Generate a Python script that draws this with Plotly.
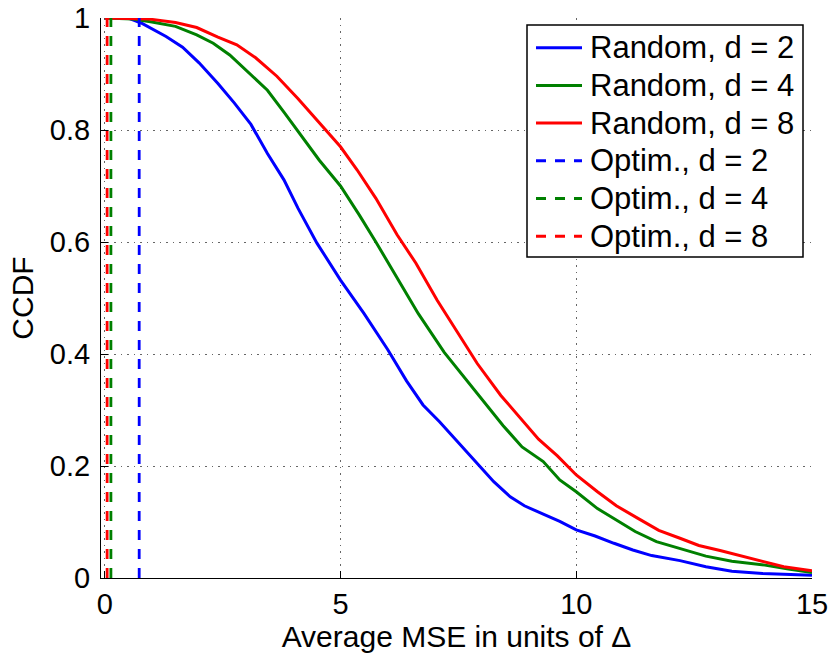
import plotly.graph_objects as go

# CCDF of the average MSE for random placements
rand_d2_x = [0, 0.5, 0.8, 1.3, 1.65, 2.0, 2.4, 2.75, 3.1, 3.45, 3.8, 4.1, 4.5, 5.0, 5.5,
             6.0, 6.4, 6.75, 7.1, 7.45, 7.9, 8.25, 8.6, 8.9, 9.3, 9.65, 10.0, 10.4, 10.8,
             11.2, 11.6, 12.2, 12.75, 13.3, 13.95, 14.5, 15]
rand_d2_y = [1, 1, 0.99, 0.967, 0.948, 0.92, 0.883, 0.848, 0.81, 0.758, 0.711, 0.66, 0.598,
             0.532, 0.472, 0.408, 0.352, 0.309, 0.279, 0.246, 0.205, 0.172, 0.145, 0.129,
             0.114, 0.101, 0.086, 0.075, 0.062, 0.05, 0.04, 0.031, 0.02, 0.012, 0.008,
             0.006, 0.005]

rand_d4_x = [0, 0.6, 1.0, 1.5, 1.95, 2.3, 2.65, 3.05, 3.45, 3.8, 4.2, 4.55, 5.0, 5.4, 5.75,
             6.15, 6.65, 7.2, 7.9, 8.45, 8.85, 9.3, 9.65, 10.0, 10.45, 10.85, 11.25, 11.7,
             12.2, 12.75, 13.3, 14.0, 14.5, 15]
rand_d4_y = [1, 0.998, 0.993, 0.985, 0.97, 0.955, 0.934, 0.902, 0.871, 0.832, 0.785, 0.746,
             0.70, 0.648, 0.600, 0.544, 0.472, 0.403, 0.330, 0.272, 0.234, 0.208, 0.175,
             0.154, 0.124, 0.104, 0.083, 0.065, 0.053, 0.039, 0.030, 0.023, 0.016, 0.010]

rand_d8_x = [0, 0.95, 1.5, 1.95, 2.4, 2.8, 3.2, 3.65, 4.1, 4.5, 5.0, 5.35, 5.75, 6.2, 6.6,
             7.05, 7.9, 8.4, 8.8, 9.2, 9.6, 10.0, 10.45, 10.85, 11.3, 11.75, 12.2, 12.6,
             13.05, 13.5, 13.95, 14.4, 15]
rand_d8_y = [1, 0.998, 0.992, 0.983, 0.966, 0.952, 0.929, 0.896, 0.856, 0.818, 0.77, 0.729,
             0.678, 0.613, 0.562, 0.496, 0.383, 0.326, 0.288, 0.248, 0.218, 0.184, 0.154,
             0.129, 0.107, 0.085, 0.071, 0.058, 0.049, 0.039, 0.030, 0.020, 0.013]

# optimised placements give a single MSE value (step CCDF)
optim_d = [2, 4, 8]
optim_mse = [0.73, 0.13, 0.05]

colors = {2: "#0000FF", 4: "#008000", 8: "#FF0000"}
DASH = "10px,9px"

W, H = 831, 653
ML, MR, MT, MB = 101, 19, 18, 75
PW, PH = W - ML - MR, H - MT - MB

fig = go.Figure()
entries = []  # (label, colour, dashed) in legend order
for d, xs, ys in [(2, rand_d2_x, rand_d2_y), (4, rand_d4_x, rand_d4_y), (8, rand_d8_x, rand_d8_y)]:
    name = f"Random, d = {d}"
    fig.add_trace(go.Scatter(x=xs, y=ys, mode="lines", name=name, showlegend=False,
                             line=dict(color=colors[d], width=3)))
    entries.append((name, colors[d], False))
for d, v in zip(optim_d, optim_mse):
    name = f"Optim., d = {d}"
    fig.add_trace(go.Scatter(x=[v, v], y=[0, 1], mode="lines", name=name, showlegend=False,
                             line=dict(color=colors[d], width=2.8, dash=DASH)))
    entries.append((name, colors[d], True))

# boxed legend in the upper-right corner, laid out in pixels and converted to paper units
def px_x(p):
    return (p - ML) / PW


def px_y(p):
    return (H - MB - p) / PH


box_l, box_r, box_t, box_b = 527, 803, 25, 257
row0, row_h = 47.7, 37.7
line_l, line_r, text_l = 536, 582, 588

shapes = [dict(type="rect", xref="paper", yref="paper", layer="above",
               x0=px_x(box_l), x1=px_x(box_r), y0=px_y(box_b), y1=px_y(box_t),
               line=dict(color="black", width=1.5), fillcolor="white")]
annotations = []
for i, (name, col, dashed) in enumerate(entries):
    yy = px_y(row0 + i * row_h)
    shapes.append(dict(type="line", xref="paper", yref="paper", layer="above",
                       x0=px_x(line_l), x1=px_x(line_r), y0=yy, y1=yy,
                       line=dict(color=col, width=3, dash=DASH if dashed else "solid")))
    annotations.append(dict(text=name, xref="paper", yref="paper", x=px_x(text_l), y=yy,
                            xanchor="left", yanchor="middle", showarrow=False,
                            font=dict(size=31, color="black")))

font = "Liberation Sans, Arial, Helvetica, sans-serif"
axis_common = dict(ticks="inside", ticklen=7, tickcolor="black", showline=True,
                   linecolor="black", linewidth=1, showgrid=True, gridcolor="#666",
                   griddash="1.5px,5px", gridwidth=1, zeroline=False, automargin=False)
fig.update_layout(
    template="none",
    width=W, height=H,
    margin=dict(l=ML, r=MR, t=MT, b=MB),
    plot_bgcolor="white", paper_bgcolor="white",
    font=dict(family=font, size=29, color="black"),
    showlegend=False,
    shapes=shapes,
    annotations=annotations,
    xaxis=dict(range=[-0.08, 15], tickvals=[0, 5, 10, 15],
               title=dict(text="Average MSE in units of Δ", font=dict(size=30), standoff=0),
               **axis_common),
    yaxis=dict(range=[0, 1], tickvals=[0, 0.2, 0.4, 0.6, 0.8, 1],
               ticktext=["0", "0.2", "0.4", "0.6", "0.8", "1"], ticklabelstandoff=4,
               title=dict(text="CCDF", font=dict(size=30), standoff=7),
               **axis_common),
)

fig.write_html("out.html")
